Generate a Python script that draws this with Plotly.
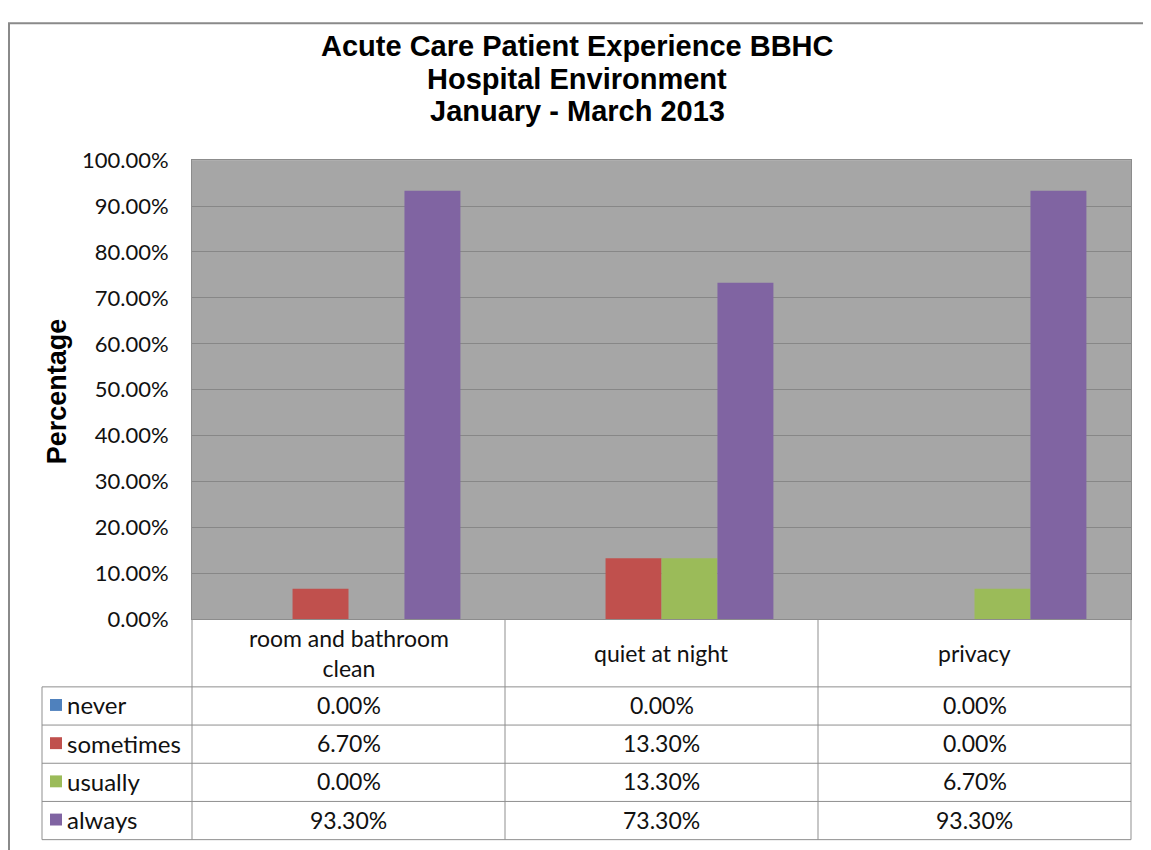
import plotly.graph_objects as go

# ---- data ----
categories = ["room and bathroom clean", "quiet at night", "privacy"]
category_labels = ["room and bathroom<br>clean", "quiet at night", "privacy"]
series_names = ["never", "sometimes", "usually", "always"]
never = [0.0, 0.0, 0.0]
sometimes = [6.7, 13.3, 0.0]
usually = [0.0, 13.3, 6.7]
always = [93.3, 73.3, 93.3]
series_values = [never, sometimes, usually, always]
series_colors = ["#4F81BD", "#C0504D", "#9BBB59", "#8064A2"]
y_ticks = [0, 10, 20, 30, 40, 50, 60, 70, 80, 90, 100]

title_lines = ["Acute Care Patient Experience BBHC", "Hospital Environment", "January - March 2013"]

W, H = 1151, 850
# mapping from target screen pixels to figure paper coordinates
X_OFF = 8
Y_A, Y_B = 0.976, 17.8
def px(x):
    return (x - X_OFF) / W
def py(y):
    return 1 - ((y - Y_B) / Y_A) / H

# layout geometry (screen pixels)
plot_l, plot_r, plot_t, plot_b = 192, 1131, 157, 620
tab_l = 42
header_b = 688
row_h = 38.5
ncat = len(categories)
col_w = (plot_r - plot_l) / ncat

fig = go.Figure()
for name, vals, col in zip(series_names, series_values, series_colors):
    fig.add_trace(go.Bar(x=categories, y=vals, name=name, marker=dict(color=col, line=dict(width=0)),
                         showlegend=False))

table_font = dict(family="Lato, 'Open Sans', sans-serif", size=23, color="#111111")
label_font = dict(family="Lato, 'Open Sans', sans-serif", size=24, color="#111111")
line_col = "#8f8f8f"
shapes = []
annotations = []

# outer border (top-left corner of the chart frame)
shapes.append(dict(type="rect", xref="paper", yref="paper", x0=px(9), x1=px(1200), y0=py(900), y1=py(19),
                   line=dict(color="#8a8a8a", width=2), layer="below"))

# table lines
table_bottom = header_b + row_h * len(series_names)
for i in range(ncat + 1):
    x = plot_l + i * col_w
    shapes.append(dict(type="line", xref="paper", yref="paper", x0=px(x), x1=px(x), y0=py(plot_b), y1=py(table_bottom),
                       line=dict(color=line_col, width=1)))
shapes.append(dict(type="line", xref="paper", yref="paper", x0=px(tab_l), x1=px(tab_l), y0=py(header_b), y1=py(table_bottom),
                   line=dict(color=line_col, width=1)))
for r in range(len(series_names) + 1):
    y = header_b + r * row_h
    shapes.append(dict(type="line", xref="paper", yref="paper", x0=px(tab_l), x1=px(plot_r), y0=py(y), y1=py(y),
                       line=dict(color=line_col, width=1)))

# category labels
for i, lab in enumerate(category_labels):
    annotations.append(dict(xref="paper", yref="paper", x=px(plot_l + (i + 0.5) * col_w), y=py((plot_b + header_b) / 2),
                            text=lab, showarrow=False, font=table_font, xanchor="center", yanchor="middle"))

# rows
for r, (name, vals, col) in enumerate(zip(series_names, series_values, series_colors)):
    yc = header_b + (r + 0.5) * row_h - 1
    shapes.append(dict(type="rect", xref="paper", yref="paper", x0=px(tab_l + 8), x1=px(tab_l + 20),
                       y0=py(yc + 6), y1=py(yc - 6), fillcolor=col, line=dict(width=0)))
    annotations.append(dict(xref="paper", yref="paper", x=px(tab_l + 23), y=py(yc), text=name, showarrow=False,
                            font=label_font, xanchor="left", yanchor="middle"))
    for i, v in enumerate(vals):
        annotations.append(dict(xref="paper", yref="paper", x=px(plot_l + (i + 0.5) * col_w), y=py(yc),
                                text=f"{v:.2f}%", showarrow=False, font=table_font, xanchor="center", yanchor="middle"))

# title (three lines)
for t, yc in zip(title_lines, [42, 75, 108]):
    annotations.append(dict(xref="paper", yref="paper", x=px(577), y=py(yc), text=f"<b>{t}</b>",
                            showarrow=False, xanchor="center", yanchor="middle",
                            font=dict(family="Liberation Sans, Arial, sans-serif", size=29, color="#000000")))
# y axis title
annotations.append(dict(xref="paper", yref="paper", x=px(57), y=py(390), text="<b>Percentage</b>", textangle=-90,
                        showarrow=False, xanchor="center", yanchor="middle",
                        font=dict(family="Liberation Sans, Arial, sans-serif", size=27, color="#000000")))

fig.update_layout(
    width=W, height=H,
    margin=dict(l=0, r=0, t=0, b=0),
    paper_bgcolor="white",
    plot_bgcolor="#A6A6A6",
    barmode="group",
    bargap=0.285,
    bargroupgap=0,
    shapes=shapes,
    annotations=annotations,
    xaxis=dict(domain=[px(plot_l), px(plot_r)], showticklabels=False, showgrid=False, zeroline=False,
               showline=True, mirror=True, linecolor="#8c8c8c", linewidth=1, ticks=""),
    yaxis=dict(domain=[py(plot_b), py(plot_t)], range=[0, 100], tickvals=y_ticks,
               ticktext=[f"{t:.2f}%" for t in y_ticks], showgrid=True, gridcolor="#878787", gridwidth=1,
               zeroline=False, showline=True, mirror=True, linecolor="#8c8c8c", linewidth=1, ticks="",
               ticklabelstandoff=18,
               tickfont=dict(family="Lato, 'Open Sans', sans-serif", size=22, color="#111111")),
)

fig.write_html("out.html")
